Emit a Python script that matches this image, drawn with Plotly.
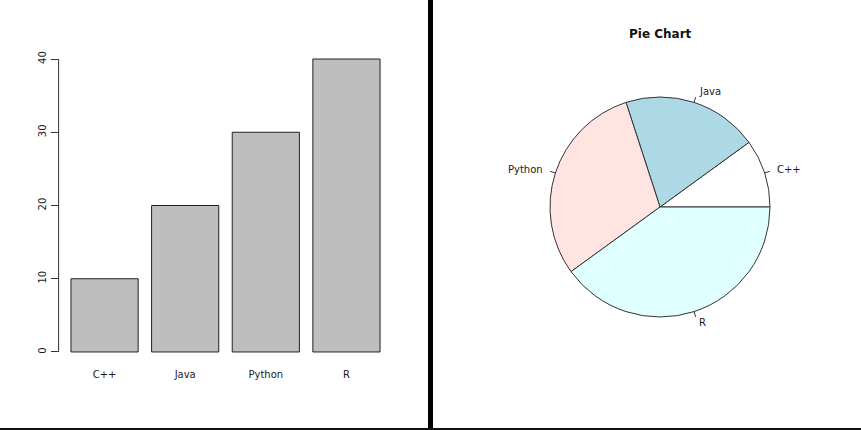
import math
import plotly.graph_objects as go

categories = ["C++", "Java", "Python", "R"]
values = [10, 20, 30, 40]
pie_colors = ["#FFFFFF", "#ADD8E6", "#FFE4E1", "#E0FFFF"]
y_ticks = [0, 10, 20, 30, 40]
pie_title = "Pie Chart"

W, H = 861, 430
FONT = "DejaVu Sans"
TXT = "#1a1a1a"
FS = 10

fig = go.Figure()

fig.add_trace(go.Bar(
    x=categories, y=values,
    marker=dict(color="#BEBEBE", line=dict(color="#222222", width=1)),
    width=1 / 1.2,
    xaxis="x", yaxis="y",
    hoverinfo="skip", showlegend=False,
))

# pie geometry (pixels)
pc = (660, 207)
r = 110
total = sum(values)
first_frac = values[0] / total
fig.add_trace(go.Pie(
    labels=categories, values=values,
    marker=dict(colors=pie_colors, line=dict(color="#333333", width=1)),
    sort=False, direction="counterclockwise",
    rotation=90 - 360 * first_frac,
    textinfo="none",
    domain=dict(x=[(pc[0] - r) / W, (pc[0] + r) / W],
                y=[(H - pc[1] - r) / H, (H - pc[1] + r) / H]),
    hoverinfo="skip", showlegend=False,
))

annotations = [dict(text="<b>" + pie_title + "</b>", x=pc[0] / W, y=(H - 34) / H,
                    xref="paper", yref="paper", showarrow=False,
                    xanchor="center", yanchor="middle",
                    font=dict(family=FONT, size=12, color="#111111"))]
shapes = []

# R-style pie labels: tick from r to 1.05r, text at 1.1r at the slice mid-angle
cum = 0
for lab, v in zip(categories, values):
    mid = 2 * math.pi * (cum + v / 2) / total
    cum += v
    cx, cy = math.cos(mid), math.sin(mid)
    shapes.append(dict(type="line", xref="paper", yref="paper",
                       x0=(pc[0] + r * cx) / W, y0=(H - pc[1] + r * cy) / H,
                       x1=(pc[0] + 1.05 * r * cx) / W, y1=(H - pc[1] + 1.05 * r * cy) / H,
                       line=dict(color="#333333", width=1)))
    annotations.append(dict(text=lab, xref="paper", yref="paper",
                            x=(pc[0] + 1.1 * r * cx) / W, y=(H - pc[1] + 1.1 * r * cy) / H,
                            xanchor="left" if cx >= 0 else "right", yanchor="middle",
                            showarrow=False,
                            font=dict(family=FONT, size=FS, color=TXT)))

shapes += [
    dict(type="line", xref="x domain", yref="y", x0=0, x1=0,
         y0=y_ticks[0], y1=y_ticks[-1], line=dict(color="#333333", width=1)),
    dict(type="line", xref="paper", yref="paper", x0=430.5 / W, x1=430.5 / W,
         y0=0, y1=1, line=dict(color="black", width=5)),
    dict(type="line", xref="paper", yref="paper", x0=0, x1=1,
         y0=1 / H, y1=1 / H, line=dict(color="#111111", width=2)),
]

fig.update_layout(
    width=W, height=H,
    margin=dict(l=0, r=0, t=0, b=0),
    paper_bgcolor="white", plot_bgcolor="white",
    font=dict(family=FONT, size=FS, color=TXT),
    xaxis=dict(domain=[58.6 / W, 392.4 / W], range=[-0.57, 3.57],
               showgrid=False, zeroline=False, showline=False,
               ticks="", tickfont=dict(size=FS), ticklabelstandoff=3),
    yaxis=dict(domain=[66.3 / H, 382.7 / H], range=[-1.6, 41.6],
               tickvals=y_ticks, ticks="outside", ticklen=7,
               tickcolor="#333333", tickangle=-90,
               showgrid=False, zeroline=False, showline=False,
               tickfont=dict(size=FS), ticklabelstandoff=1),
    annotations=annotations,
    shapes=shapes,
)

fig.write_html("out.html",
               config={"displayModeBar": False},
               post_script="document.body.style.margin='0';document.body.style.overflow='hidden';")
